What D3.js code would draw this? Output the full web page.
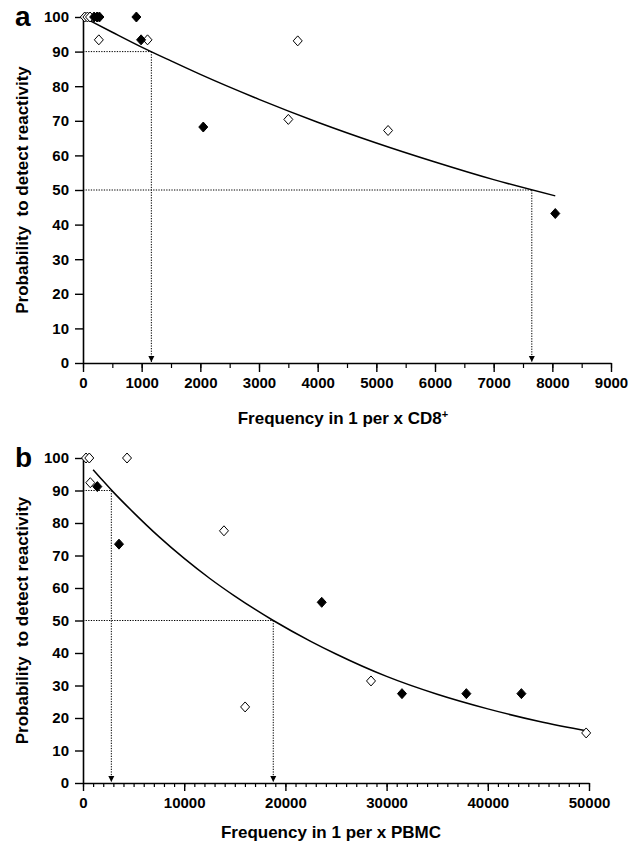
<!DOCTYPE html>
<html>
<head>
<meta charset="utf-8">
<script src="https://cdn.jsdelivr.net/npm/d3@7"></script>
<style>
  html, body { margin: 0; padding: 0; background: #fff; }
  svg { display: block; }
  text { font-family: "Liberation Sans", Arial, Helvetica, sans-serif; font-weight: bold; fill: #000; }
</style>
</head>
<body>
<svg id="chart" width="638" height="842"></svg>
<script>
// ---------- Panel a data ----------
const aOpenX   = [30, 75, 120, 270, 1100, 3500, 3660, 5200];
const aOpenY   = [100, 100, 100, 93.4, 93.4, 70.4, 93.1, 67.2];
const aFilledX = [190, 240, 280, 910, 990, 2050, 8050];
const aFilledY = [100, 100, 100, 100, 93.4, 68.2, 43.2];
const aCurveX  = [100, 500, 1000, 1500, 2000, 3000, 4000, 5000, 6000, 7000, 8050];
const aCurveY  = [99.1, 95.6, 91.3, 87.3, 83.4, 76.2, 69.6, 63.6, 58.1, 53.0, 48.3];
const aRefX    = [1165, 7650];   // x where curve crosses 90 / 50
const aRefY    = [90, 50];
const aXTicks  = [0, 1000, 2000, 3000, 4000, 5000, 6000, 7000, 8000, 9000];
const aYTicks  = [0, 10, 20, 30, 40, 50, 60, 70, 80, 90, 100];

// ---------- Panel b data ----------
const bOpenX   = [300, 620, 4350, 720, 13930, 16020, 28460, 49720];
const bOpenY   = [100, 100, 100, 92.4, 77.6, 23.4, 31.4, 15.4];
const bFilledX = [1415, 3557, 23590, 31520, 37880, 43320];
const bFilledY = [91.2, 73.5, 55.6, 27.5, 27.5, 27.5];
const bCurveX  = [1000, 2000, 3000, 5000, 7500, 10000, 12500, 15000, 18800, 22500, 25000, 30000, 35000, 40000, 45000, 50000];
const bCurveY  = [96.4, 92.9, 89.5, 83.2, 75.8, 69.1, 63.0, 57.5, 50.0, 43.6, 39.7, 32.8, 27.3, 22.8, 19.0, 15.9];
const bRefX    = [2800, 18800];
const bRefY    = [90, 50];
const bXTicks  = [0, 10000, 20000, 30000, 40000, 50000];
const bYTicks  = [0, 10, 20, 30, 40, 50, 60, 70, 80, 90, 100];

const svg = d3.select("#chart");
svg.append("rect").attr("width", 638).attr("height", 842).attr("fill", "#fff");

const defs = svg.append("defs");
defs.append("marker").attr("id", "arrow")
  .attr("viewBox", "0 0 10 10").attr("refX", 10).attr("refY", 5)
  .attr("markerWidth", 6).attr("markerHeight", 7).attr("orient", "auto")
  .attr("markerUnits", "userSpaceOnUse")
  .append("path").attr("d", "M0,0 L10,5 L0,10 Z").attr("fill", "#000");

const FONT = "'Liberation Sans', Arial, sans-serif";

function panel(cfg) {
  const g = svg.append("g");
  const x = d3.scaleLinear().domain(cfg.xDomain).range([cfg.left, cfg.right]);
  const y = d3.scaleLinear().domain([0, 100]).range([cfg.bottom, cfg.top]);

  // y axis
  const yAxis = d3.axisLeft(y).tickValues(cfg.yTicks).tickSize(8).tickSizeOuter(0).tickPadding(6);
  const ya = g.append("g").attr("transform", `translate(${cfg.left},0)`).call(yAxis);
  ya.select(".domain").attr("stroke", "#000").attr("stroke-width", 1.6);
  ya.selectAll(".tick line").attr("stroke", "#000").attr("stroke-width", 1.4);
  ya.selectAll(".tick text").style("font-size", "15px").style("font-family", FONT).style("font-weight", "bold");

  // x minor ticks
  const xMinor = d3.axisBottom(x).tickValues(d3.range(cfg.xDomain[0], cfg.xDomain[1] + 1, cfg.minorStep))
    .tickSize(cfg.minorLen).tickSizeOuter(0).tickFormat("");
  const xm = g.append("g").attr("transform", `translate(0,${cfg.bottom})`).call(xMinor);
  xm.select(".domain").remove();
  xm.selectAll(".tick line").attr("stroke", "#000").attr("stroke-width", 1.2);

  // x major
  const xAxis = d3.axisBottom(x).tickValues(cfg.xTicks).tickSize(cfg.majorLen).tickSizeOuter(0).tickPadding(cfg.labelPad)
    .tickFormat(d3.format("d"));
  const xa = g.append("g").attr("transform", `translate(0,${cfg.bottom})`).call(xAxis);
  xa.select(".domain").attr("stroke", "#000").attr("stroke-width", 1.6);
  xa.selectAll(".tick line").attr("stroke", "#000").attr("stroke-width", 1.4);
  xa.selectAll(".tick text").style("font-size", "15px").style("font-family", FONT).style("font-weight", "bold");

  // reference dotted lines
  cfg.refX.forEach((rx, i) => {
    const ry = cfg.refY[i];
    g.append("line").attr("x1", x(0)).attr("x2", x(rx)).attr("y1", y(ry)).attr("y2", y(ry))
      .attr("stroke", "#000").attr("stroke-width", 1).attr("stroke-dasharray", "1.3,1.3");
    g.append("line").attr("x1", x(rx)).attr("x2", x(rx)).attr("y1", y(ry)).attr("y2", y(0) - 1)
      .attr("stroke", "#000").attr("stroke-width", 1).attr("stroke-dasharray", "1.3,1.3")
      .attr("marker-end", "url(#arrow)");
  });

  // fitted curve
  const pts = cfg.curveX.map((d, i) => [d, cfg.curveY[i]]);
  g.append("path").datum(pts)
    .attr("d", d3.line().x(d => x(d[0])).y(d => y(d[1])).curve(d3.curveMonotoneX))
    .attr("fill", "none").attr("stroke", "#000").attr("stroke-width", 1.5);

  // diamonds
  const diamond = (cx, cy) => `M${cx},${cy - 5} L${cx + 4.5},${cy} L${cx},${cy + 5} L${cx - 4.5},${cy} Z`;
  const open = cfg.openX.map((d, i) => [d, cfg.openY[i]]);
  const filled = cfg.filledX.map((d, i) => [d, cfg.filledY[i]]);
  g.selectAll(".open").data(open).enter().append("path")
    .attr("d", d => diamond(x(d[0]), y(d[1])))
    .attr("fill", "#fff").attr("stroke", "#000").attr("stroke-width", 1);
  g.selectAll(".filled").data(filled).enter().append("path")
    .attr("d", d => diamond(x(d[0]), y(d[1])))
    .attr("fill", "#000").attr("stroke", "#000").attr("stroke-width", 1);

  // panel letter
  g.append("text").attr("x", cfg.letterX).attr("y", cfg.top + 9).text(cfg.letter)
    .style("font-size", "28px");

  // y title
  g.append("text")
    .attr("transform", `translate(${cfg.yTitleX},${(cfg.top + cfg.bottom) / 2}) rotate(-90)`)
    .attr("text-anchor", "middle").style("font-size", "17px")
    .attr("xml:space", "preserve")
    .text("Probability  to detect reactivity");

  // x title
  const xt = g.append("text").attr("x", (cfg.left + cfg.right) / 2 + cfg.xTitleDx).attr("y", cfg.xTitleY)
    .attr("text-anchor", "middle").style("font-size", "17px");
  xt.append("tspan").text(cfg.xTitle);
  if (cfg.xTitleSup) xt.append("tspan").attr("dy", -6).style("font-size", "11px").text(cfg.xTitleSup);
}

panel({
  letter: "a", letterX: 15,
  xDomain: [0, 9000], left: 83, right: 611, top: 17, bottom: 363,
  xTicks: aXTicks, yTicks: aYTicks, minorStep: 500, minorLen: 5, majorLen: 9, labelPad: 5,
  openX: aOpenX, openY: aOpenY, filledX: aFilledX, filledY: aFilledY,
  curveX: aCurveX, curveY: aCurveY, refX: aRefX, refY: aRefY,
  yTitleX: 28, xTitle: "Frequency in 1 per x CD8", xTitleSup: "+", xTitleY: 424, xTitleDx: -4
});

panel({
  letter: "b", letterX: 15,
  xDomain: [0, 50000], left: 83, right: 589, top: 458, bottom: 783,
  xTicks: bXTicks, yTicks: bYTicks, minorStep: 1000, minorLen: 4, majorLen: 8, labelPad: 6,
  openX: bOpenX, openY: bOpenY, filledX: bFilledX, filledY: bFilledY,
  curveX: bCurveX, curveY: bCurveY, refX: bRefX, refY: bRefY,
  yTitleX: 28, xTitle: "Frequency in 1 per x PBMC", xTitleSup: "", xTitleY: 838, xTitleDx: -5
});
</script>
</body>
</html>
